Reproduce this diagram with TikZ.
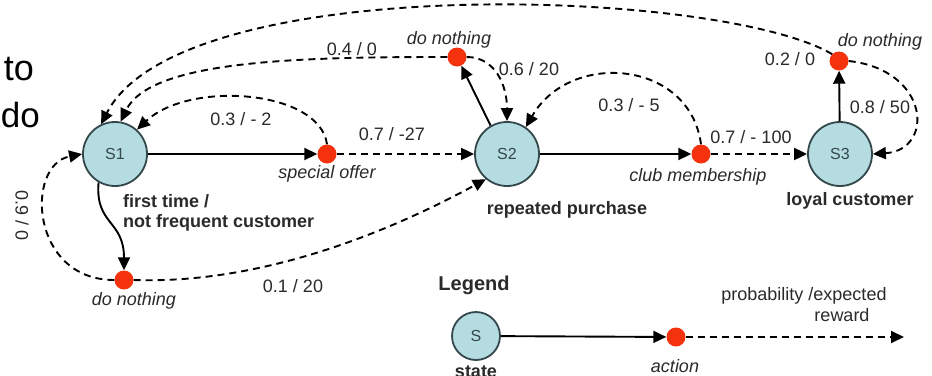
\documentclass[tikz,border=0pt]{standalone}
\usepackage{fontspec}
\setmainfont{Liberation Sans}
\usetikzlibrary{arrows.meta}
\definecolor{stfill}{HTML}{B5DDE1}
\definecolor{stdraw}{HTML}{34474B}
\definecolor{dotred}{HTML}{F4330E}
\definecolor{txt}{HTML}{2A2A2A}
\begin{document}
\begin{tikzpicture}[x=1pt,y=-1pt,
  state/.style={circle,draw=stdraw,line width=1.8pt,fill=stfill,minimum size=64pt,inner sep=0pt,font=\fontsize{16}{18}\selectfont,text=stdraw},
  act/.style={circle,fill=dotred,minimum size=19pt,inner sep=0pt},
  solidarr/.style={line width=1.9pt,-{Triangle[length=13pt,width=12pt]}},
  dasharr/.style={line width=1.9pt,dash pattern=on 7pt off 5pt,-{Triangle[length=13pt,width=12pt]}},
  lbl/.style={font=\fontsize{18}{20}\selectfont,text=txt,inner sep=0pt,anchor=base},
  ilbl/.style={lbl,font=\fontsize{18}{20}\selectfont\itshape},
  blbl/.style={lbl,font=\fontsize{18}{20}\selectfont\bfseries},
]
\useasboundingbox (0,0) rectangle (932,375);
\fill[white] (0,0) rectangle (932,375);

% slide text cut off at the left
\node[anchor=base east,inner sep=0pt,font=\fontsize{36}{40}\selectfont] (tto) at (34,80) {to};
\node[anchor=base east,inner sep=0pt,font=\fontsize{35}{40}\selectfont] (tdo) at (40,127) {do};

% states
\node[state] (s1) at (115,154) {S1};
\node[state] (s2) at (507,154) {S2};
\node[state] (s3) at (840,154) {S3};

% actions
\node[act] (so) at (327,154) {};
\node[act] (dn2) at (457,57) {};
\node[act] (cm) at (701,154) {};
\node[act] (dn3) at (839,61) {};
\node[act] (dn1) at (124,280) {};

% connectors
\draw[solidarr] (s1) -- (so);
\draw[dasharr] (so) -- (s2);
\draw[dasharr] (so.north) .. controls (320,90) and (190,80) .. (s1.48);
\draw[solidarr] (s2.120) -- (dn2);
\draw[dasharr] (dn2.east) .. controls (495,57) and (507,85) .. (s2.north);
\draw[dasharr] (dn2.west) .. controls (300,57) and (150,60) .. (s1.80);
\draw[dasharr] (dn3.north west) .. controls (720,-12) and (180,-30) .. (s1.115);
\draw[solidarr] (s2) -- (cm);
\draw[dasharr] (cm) -- (s3);
\draw[dasharr] (cm.north) .. controls (690,60) and (570,50) .. (s2.55);
\draw[solidarr] (s3) -- (dn3);
\draw[dasharr] (dn3.east) .. controls (930,70) and (935,150) .. (s3.east);
\draw[solidarr] (s1.240) .. controls (95,225) and (124,220) .. (dn1.north);
\draw[dasharr] (dn1.west) .. controls (30,280) and (25,165) .. (s1.west);
\draw[dasharr] (dn1.east) .. controls (280,285) and (420,215) .. (s2.230);

% labels
\node[ilbl] (lso) at (327,178) {special offer};
\node[lbl] (l1) at (392,140) {0.7 / -27};
\node[lbl] (l2) at (241,125) {0.3 / - 2};
\node[lbl] (l3) at (352,55) {0.4 / 0};
\node[ilbl] (ldn2) at (449,44) {do nothing};
\node[lbl] (l4) at (529,75) {0.6 / 20};
\node[lbl] (l5) at (629,111) {0.3 / - 5};
\node[lbl] (l6) at (751,143) {0.7 / - 100};
\node[ilbl] (lcm) at (698,181) {club membership};
\node[blbl] (ls3) at (850,205) {loyal customer};
\node[ilbl] (ldn3) at (880,46) {do nothing};
\node[lbl] (l7) at (790,65) {0.2 / 0};
\node[lbl] (l8) at (880,113) {0.8 / 50};
\node[blbl] (ls2) at (567,214) {repeated purchase};
\node[blbl,anchor=base west] (ls1a) at (123,207) {first time /};
\node[blbl,anchor=base west] (ls1b) at (123,227) {not frequent customer};
\node[lbl,rotate=-90,anchor=center] (l9) at (22,216) {0.9 / 0};
\node[ilbl] (ldn1) at (134,305) {do nothing};
\node[lbl] (l10) at (293,292) {0.1 / 20};

% legend
\node[lbl,font=\fontsize{20}{22}\selectfont\bfseries] (lleg) at (474,290) {Legend};
\node[state,minimum size=48pt] (ls) at (476,336) {S};
\node[act] (la) at (676,337) {};
\coordinate (lend) at (904,337);
\draw[solidarr] (ls) -- (la);
\draw[dasharr] (la) -- (lend);
\node[blbl] (lstate) at (476,377) {state};
\node[ilbl] (laction) at (675,372) {action};
\node[lbl] (lprob) at (804,300) {probability /expected};
\node[lbl] (lrew) at (842,321) {reward};
\end{tikzpicture}
\end{document}
